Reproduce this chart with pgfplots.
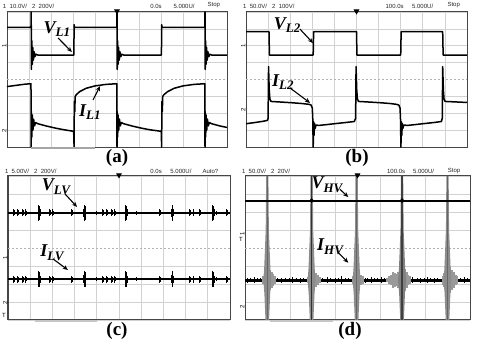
\documentclass[border=0pt]{standalone}
\usepackage{fontspec}
\setmainfont{Liberation Serif}
\newfontfamily\scopefont{Liberation Sans}
\usepackage{pgfplots}
\usepackage{pgfplotstable}
\pgfplotsset{compat=1.18}
\usetikzlibrary{arrows.meta}

\newcommand{\hdr}{\scopefont\fontsize{3}{3}\selectfont}
\newcommand{\lab}[2]{{\fontsize{9}{9}\selectfont\bfseries\itshape #1\raisebox{-0.45ex}{\fontsize{6.5}{6.5}\selectfont #2}}}

\tikzset{arr/.style={-{Stealth[length=2.6pt,width=2.2pt]}, line width=0.55pt}}
\pgfplotsset{
  scope/.style={
    scale only axis, xmin=0, xmax=10, ymin=-4, ymax=4,
    xtick={0,...,10}, ytick={-4,-3,-2,-1,1,2,3,4},
    extra y ticks={0}, extra y tick labels={},
    extra y tick style={grid=major, major grid style={gray!60, dash pattern=on 1pt off 1pt, line width=0.35pt}},
    xticklabels={}, yticklabels={},
    major tick length=0pt,
    grid=major, grid style={gray!35, line width=0.35pt},
    axis line style={gray!55!black, line width=0.5pt},
    clip=false,
  },
  trace/.style={black, line width=0.75pt, line join=round},
  trig/.style={only marks, mark=triangle*, mark size=1.3pt, mark options={rotate=180, fill=black}},
}

% noise bursts of panel (c): x, trace levels, half height
\pgfplotstableread{
x      v     i      e
0.255  1.96  -1.74  0.20
0.285  1.96  -1.74  0.14
0.435  1.96  -1.74  0.20
0.465  1.96  -1.74  0.14
0.645  1.96  -1.74  0.20
0.675  1.96  -1.74  0.14
0.795  1.96  -1.74  0.18
0.825  1.96  -1.74  0.12
1.35   1.96  -1.74  0.22
1.38   1.96  -1.74  0.45
1.41   1.96  -1.74  0.40
1.44   1.96  -1.74  0.20
1.875  1.96  -1.74  0.20
1.905  1.96  -1.74  0.14
1.995  1.96  -1.74  0.18
2.025  1.96  -1.74  0.12
2.855  1.96  -1.74  0.20
2.885  1.96  -1.74  0.14
3.42   1.96  -1.74  0.22
3.45   1.96  -1.74  0.45
3.48   1.96  -1.74  0.40
3.51   1.96  -1.74  0.20
3.99   1.96  -1.74  0.12
4.275  1.96  -1.74  0.20
4.305  1.96  -1.74  0.14
4.455  1.96  -1.74  0.20
4.485  1.96  -1.74  0.14
4.655  1.96  -1.74  0.20
4.685  1.96  -1.74  0.14
4.805  1.96  -1.74  0.18
4.835  1.96  -1.74  0.12
5.27   1.96  -1.74  0.22
5.30   1.96  -1.74  0.45
5.33   1.96  -1.74  0.40
5.36   1.96  -1.74  0.20
5.80   1.96  -1.74  0.12
6.835  1.96  -1.74  0.20
6.865  1.96  -1.74  0.14
7.36   1.96  -1.74  0.22
7.39   1.96  -1.74  0.45
7.42   1.96  -1.74  0.40
7.45   1.96  -1.74  0.20
8.185  1.96  -1.74  0.20
8.215  1.96  -1.74  0.14
8.335  1.96  -1.74  0.20
8.365  1.96  -1.74  0.14
8.635  1.96  -1.74  0.20
8.665  1.96  -1.74  0.14
9.20   1.96  -1.74  0.22
9.23   1.96  -1.74  0.45
9.26   1.96  -1.74  0.40
9.29   1.96  -1.74  0.20
9.40   1.96  -1.74  0.12
9.835  1.96  -1.74  0.20
9.865  1.96  -1.74  0.14
}\burstsC

% panel (d): fine noise on the current trace
\pgfplotstableread{
x     y      e
0.10  -1.78  0.14
0.25  -1.78  0.10
0.40  -1.78  0.16
0.55  -1.78  0.11
0.70  -1.78  0.13
1.45  -1.78  0.12
1.60  -1.78  0.14
1.80  -1.78  0.10
1.95  -1.78  0.13
2.10  -1.78  0.16
2.30  -1.78  0.11
2.45  -1.78  0.14
2.60  -1.78  0.12
3.45  -1.78  0.11
3.65  -1.78  0.15
3.80  -1.78  0.12
4.00  -1.78  0.14
4.15  -1.78  0.10
4.30  -1.78  0.22
4.45  -1.78  0.13
4.60  -1.78  0.12
5.35  -1.78  0.14
5.45  -1.78  0.11
5.60  -1.78  0.16
5.75  -1.78  0.13
5.90  -1.78  0.12
6.05  -1.78  0.15
6.20  -1.78  0.11
7.45  -1.78  0.16
7.65  -1.78  0.12
7.80  -1.78  0.14
7.95  -1.78  0.11
8.10  -1.78  0.15
8.25  -1.78  0.12
8.40  -1.78  0.14
8.55  -1.78  0.13
9.55  -1.78  0.12
9.75  -1.78  0.15
9.90  -1.78  0.11
}\noiseD

% panel (d): ringing around the spikes
\pgfplotstableread{
x     y      e
0.80  -1.78  0.20
0.88  -1.78  0.35
1.10  -1.78  0.55
1.18  -1.78  0.45
1.26  -1.78  0.35
1.34  -1.78  0.22
2.80  -1.78  0.18
2.86  -1.78  0.30
3.08  -1.78  0.50
3.16  -1.78  0.38
3.24  -1.78  0.28
3.32  -1.78  0.18
4.78  -1.78  0.20
4.86  -1.78  0.35
5.08  -1.78  0.45
5.16  -1.78  0.30
5.24  -1.78  0.20
6.30  -1.78  0.12
6.40  -1.78  0.20
6.50  -1.78  0.30
6.58  -1.78  0.45
6.66  -1.78  0.40
6.74  -1.78  0.32
6.82  -1.78  0.45
7.10  -1.78  0.60
7.18  -1.78  0.45
7.26  -1.78  0.30
7.34  -1.78  0.20
8.78  -1.78  0.25
8.84  -1.78  0.40
9.12  -1.78  0.70
9.20  -1.78  0.55
9.28  -1.78  0.45
9.36  -1.78  0.30
9.44  -1.78  0.20
}\ringD

\begin{document}
\begin{tikzpicture}
\path[use as bounding box] (0,0) rectangle (240pt,171pt);

% ---------------- (a)
\begin{axis}[scope, at={(3.5pt,165pt)}, anchor=north west, width=110pt, height=67.5pt]
\addplot[trace] coordinates {
  (0,3.09) (1.09,3.09) (1.10,4.0) (1.11,0.6) (1.13,2.3) (1.15,0.9) (1.17,1.9)
  (1.20,1.15) (1.23,1.65) (1.27,1.35) (1.32,1.5) (1.40,1.45) (3.04,1.45)
  (3.05,3.25) (3.07,3.09) (4.99,3.09) (5.00,4.0) (5.01,0.6) (5.03,2.3)
  (5.05,0.9) (5.07,1.9) (5.10,1.15) (5.13,1.65) (5.17,1.35) (5.22,1.5)
  (5.30,1.45) (7.02,1.45) (7.03,3.25) (7.05,3.09) (8.99,3.09) (9.00,4.0)
  (9.01,0.6) (9.03,2.3) (9.05,0.9) (9.07,1.9) (9.10,1.15) (9.13,1.65)
  (9.17,1.35) (9.22,1.5) (9.30,1.45) (10,1.45)
};
\addplot[trace] coordinates {
  (0,-0.42) (0.4,-0.35) (0.8,-0.28) (1.09,-0.25) (1.10,-4.0) (1.11,-1.9)
  (1.13,-3.4) (1.15,-2.1) (1.18,-3.0) (1.21,-2.35) (1.25,-2.75) (1.30,-2.55)
  (1.40,-2.62) (1.8,-2.76) (2.2,-2.88) (2.6,-2.98) (3.03,-3.07) (3.05,-4.0)
  (3.06,-1.3) (3.08,-1.9) (3.10,-1.0) (3.15,-0.9) (3.3,-0.72) (3.6,-0.52)
  (4.0,-0.38) (4.5,-0.29) (4.99,-0.25) (5.00,-4.0) (5.01,-1.9) (5.03,-3.4)
  (5.05,-2.1) (5.08,-3.0) (5.11,-2.35) (5.15,-2.75) (5.20,-2.55) (5.30,-2.62)
  (5.7,-2.76) (6.1,-2.88) (6.5,-2.98) (7.01,-3.07) (7.03,-4.0) (7.04,-1.3)
  (7.06,-1.9) (7.08,-1.0) (7.13,-0.9) (7.3,-0.72) (7.6,-0.52) (8.0,-0.38)
  (8.5,-0.29) (8.99,-0.25) (9.00,-4.0) (9.01,-1.9) (9.03,-3.4) (9.05,-2.1)
  (9.08,-3.0) (9.11,-2.35) (9.15,-2.75) (9.20,-2.55) (9.30,-2.62) (9.7,-2.76)
  (10,-2.84)
};
\addplot[gray!70, line width=0.9pt] coordinates {(1.1,-4.05) (4.0,-4.05)};
\addplot[trig] coordinates {(5,4.05)};
\node[font=\hdr, anchor=south west, inner sep=0pt, gray!30!black] at (axis cs:-0.2,4.2) {1\ \ 10.0V/\ \ \ 2\ \ 200V/};
\node[font=\hdr, anchor=south west, inner sep=0pt, gray!30!black] at (axis cs:6.5,4.2) {0.0s};
\node[font=\hdr, anchor=south west, inner sep=0pt, gray!30!black] at (axis cs:7.55,4.2) {5.000U/};
\node[font=\hdr, anchor=south west, inner sep=0pt, gray!30!black] at (axis cs:9.1,4.2) {Stop};
\node[font=\hdr, anchor=east, inner sep=0.3pt, rotate=90] at (axis cs:-0.12,2.16) {1};
\node[font=\hdr, anchor=east, inner sep=0.3pt, rotate=90] at (axis cs:-0.12,-2.87) {2};
\node[inner sep=0pt] at (axis cs:2.27,2.99) {\lab{V}{L1}};
\draw[arr] (axis cs:2.32,2.46) -- (axis cs:2.95,1.63);
\node[inner sep=0pt] at (axis cs:3.77,-1.93) {\lab{I}{L1}};
\draw[arr] (axis cs:3.91,-1.21) -- (axis cs:4.23,-0.39);
\end{axis}

% ---------------- (b)
\begin{axis}[scope, at={(123pt,165pt)}, anchor=north west, width=110.5pt, height=67.5pt]
\addplot[trace] coordinates {
  (0,2.83) (1.04,2.83) (1.06,1.45) (3.04,1.45) (3.06,2.83) (5.0,2.83)
  (5.02,1.45) (7.0,1.45) (7.02,2.83) (8.9,2.83) (8.92,1.45) (10,1.45)
};
\addplot[trace] coordinates {
  (0,-2.62) (0.4,-2.55) (0.8,-2.47) (0.97,-2.42) (1.0,-2.3) (1.02,0.76)
  (1.05,-0.6) (1.08,-1.15) (1.13,-1.3) (1.5,-1.33) (2.0,-1.37) (2.5,-1.42)
  (2.85,-1.47) (2.95,-1.52) (3.0,-1.7) (3.02,-2.3) (3.04,-4.0) (3.06,-2.5)
  (3.08,-3.3) (3.10,-2.6) (3.13,-2.9) (3.17,-2.7) (3.3,-2.72) (3.6,-2.68)
  (4.0,-2.62) (4.5,-2.55) (4.9,-2.49) (4.96,-2.3) (4.98,0.76) (5.01,-0.6)
  (5.04,-1.15) (5.09,-1.3) (5.5,-1.33) (6.0,-1.37) (6.5,-1.42) (6.8,-1.47)
  (6.92,-1.52) (6.97,-1.7) (6.99,-2.3) (7.01,-4.0) (7.03,-2.5) (7.05,-3.3)
  (7.07,-2.6) (7.10,-2.9) (7.14,-2.7) (7.3,-2.72) (7.6,-2.68) (8.0,-2.62)
  (8.5,-2.55) (8.84,-2.49) (8.88,-2.3) (8.9,0.76) (8.93,-0.6) (8.96,-1.15)
  (9.01,-1.3) (9.5,-1.33) (10,-1.36)
};
\addplot[trig] coordinates {(5,4.05)};
\node[font=\hdr, anchor=south west, inner sep=0pt, gray!30!black] at (axis cs:-0.15,4.2) {1\ \ 50.0V/\ \ \ 2\ \ 100V/};
\node[font=\hdr, anchor=south west, inner sep=0pt, gray!30!black] at (axis cs:6.3,4.2) {100.0s};
\node[font=\hdr, anchor=south west, inner sep=0pt, gray!30!black] at (axis cs:7.5,4.2) {5.000U/};
\node[font=\hdr, anchor=south west, inner sep=0pt, gray!30!black] at (axis cs:9.1,4.2) {Stop};
\node[font=\hdr, anchor=east, inner sep=0.3pt, rotate=90] at (axis cs:-0.12,2.16) {1};
\node[font=\hdr, anchor=east, inner sep=0.3pt, rotate=90] at (axis cs:-0.12,-1.61) {2};
\node[inner sep=0pt] at (axis cs:1.86,3.23) {\lab{V}{L2}};
\draw[arr] (axis cs:2.44,2.99) -- (axis cs:3.03,2.16);
\node[inner sep=0pt] at (axis cs:1.67,-0.15) {\lab{I}{L2}};
\draw[arr] (axis cs:1.99,-0.5) -- (axis cs:2.9,-1.39);
\end{axis}

% ---------------- (c)
\begin{axis}[scope, at={(4pt,83pt)}, anchor=north west, width=111pt, height=72pt]
\addplot[black, line width=0.9pt] coordinates {(0,1.96) (10,1.96)};
\addplot[black, line width=0.9pt] coordinates {(0,-1.74) (10,-1.74)};
\addplot[draw=none, mark=none, error bars/.cd, y dir=both, y explicit, error mark=none,
  error bar style={black, line width=0.45pt}] table[x=x, y=v, y error=e] {\burstsC};
\addplot[draw=none, mark=none, error bars/.cd, y dir=both, y explicit, error mark=none,
  error bar style={black, line width=0.45pt}] table[x=x, y=i, y error=e] {\burstsC};
\addplot[gray!45, line width=0.9pt] coordinates {(1.2,-4.05) (4.0,-4.05)};
\addplot[trig] coordinates {(5,4.05)};
\node[font=\hdr, anchor=south west, inner sep=0pt, gray!30!black] at (axis cs:-0.15,4.12) {1\ \ 5.00V/\ \ \ 2\ \ 200V/};
\node[font=\hdr, anchor=south west, inner sep=0pt, gray!30!black] at (axis cs:6.4,4.12) {0.0s};
\node[font=\hdr, anchor=south west, inner sep=0pt, gray!30!black] at (axis cs:7.3,4.12) {5.000U/};
\node[font=\hdr, anchor=south west, inner sep=0pt, gray!30!black] at (axis cs:8.75,4.12) {Auto?};
\node[font=\hdr, anchor=east, inner sep=0.3pt, rotate=90] at (axis cs:-0.12,-0.39) {1};
\node[font=\hdr, anchor=east, inner sep=0.3pt, rotate=90] at (axis cs:-0.12,-2.89) {2};
\node[font=\hdr, anchor=east, inner sep=0.3pt] at (axis cs:-0.05,-3.75) {T};
\node[inner sep=0pt] at (axis cs:2.16,3.39) {\lab{V}{LV}};
\draw[arr] (axis cs:2.57,3.0) -- (axis cs:3.11,2.28);
\node[inner sep=0pt] at (axis cs:1.98,-0.28) {\lab{I}{LV}};
\draw[arr] (axis cs:2.03,-0.61) -- (axis cs:2.7,-1.22);
\end{axis}

% ---------------- (d)
\begin{axis}[scope, at={(122.5pt,83pt)}, anchor=north west, width=112.5pt, height=72pt]
\addplot[black, line width=1.5pt] coordinates {(0,-1.78) (10,-1.78)};
\addplot[draw=none, mark=none, error bars/.cd, y dir=both, y explicit, error mark=none,
  error bar style={gray!80, line width=1pt}] table[x=x, y=y, y error=e] {\ringD};
\addplot[draw=none, mark=none, error bars/.cd, y dir=both, y explicit, error mark=none,
  error bar style={black, line width=0.35pt}] table[x=x, y=y, y error=e] {\noiseD};
\addplot[fill=black!45, draw=none] coordinates {(0.94,4) (1.04,4) (1.06,1.0) (1.13,-1.2) (1.17,-1.78) (1.12,-2.5) (1.07,-4) (0.91,-4) (0.86,-2.5) (0.81,-1.78) (0.85,-1.2) (0.92,1.0)};
\addplot[fill=black!45, draw=none] coordinates {(2.91,4) (3.01,4) (3.03,1.0) (3.10,-1.2) (3.14,-1.78) (3.09,-2.5) (3.04,-4) (2.88,-4) (2.83,-2.5) (2.78,-1.78) (2.82,-1.2) (2.89,1.0)};
\addplot[fill=black!45, draw=none] coordinates {(4.91,4) (5.01,4) (5.03,1.0) (5.10,-1.2) (5.14,-1.78) (5.09,-2.5) (5.04,-4) (4.88,-4) (4.83,-2.5) (4.78,-1.78) (4.82,-1.2) (4.89,1.0)};
\addplot[fill=black!50, draw=none] coordinates {(6.93,4) (7.03,4) (7.05,1.0) (7.12,-1.2) (7.16,-1.78) (7.11,-2.5) (7.06,-4) (6.90,-4) (6.85,-2.5) (6.80,-1.78) (6.84,-1.2) (6.91,1.0)};
\addplot[fill=black!45, draw=none] coordinates {(8.95,4) (9.05,4) (9.07,1.0) (9.14,-1.2) (9.18,-1.78) (9.13,-2.5) (9.08,-4) (8.92,-4) (8.87,-2.5) (8.82,-1.78) (8.86,-1.2) (8.93,1.0)};
\addplot[black!60, line width=0.4pt] coordinates {(0.99,4) (0.99,-4)};
\addplot[black!80, line width=0.6pt] coordinates {(2.96,4) (2.96,-4)};
\addplot[black!60, line width=0.4pt] coordinates {(4.96,4) (4.96,-4)};
\addplot[black!75, line width=1.3pt] coordinates {(6.98,4) (6.98,-4)};
\addplot[black!60, line width=0.4pt] coordinates {(9.0,4) (9.0,-4)};
\addplot[black, line width=1.1pt] coordinates {(0,2.63) (10,2.63)};
\addplot[only marks, mark=*, mark size=0.9pt, black] coordinates {(2.96,2.63) (6.98,2.63)};
\addplot[gray!45, line width=0.9pt] coordinates {(1.1,-4.05) (3.9,-4.05)};
\addplot[trig] coordinates {(5,4.05)};
\node[font=\hdr, anchor=south west, inner sep=0pt, gray!30!black] at (axis cs:-0.15,4.12) {1\ \ 50.0V/\ \ \ 2\ \ 20V/};
\node[font=\hdr, anchor=south west, inner sep=0pt, gray!30!black] at (axis cs:6.3,4.12) {100.0s};
\node[font=\hdr, anchor=south west, inner sep=0pt, gray!30!black] at (axis cs:7.45,4.12) {5.000U/};
\node[font=\hdr, anchor=south west, inner sep=0pt, gray!30!black] at (axis cs:9.0,4.12) {Stop};
\node[font=\hdr, anchor=east, inner sep=0.3pt, rotate=90] at (axis cs:-0.12,0.94) {1};
\node[font=\hdr, anchor=east, inner sep=0.3pt] at (axis cs:-0.05,0.45) {T};
\node[font=\hdr, anchor=east, inner sep=0.3pt, rotate=90] at (axis cs:-0.12,-3.1) {2};
\node[inner sep=0pt] at (axis cs:3.64,3.5) {\lab{V}{HV}};
\draw[arr] (axis cs:4.22,3.26) -- (axis cs:4.59,2.83);
\node[inner sep=0pt] at (axis cs:3.78,0.06) {\lab{I}{HV}};
\draw[arr] (axis cs:4.15,-0.26) -- (axis cs:4.59,-0.82);
\end{axis}

\node[font=\fontsize{9.5}{10}\selectfont\bfseries, inner sep=0pt] at (58.5pt,92pt) {(a)};
\node[font=\fontsize{9.5}{10}\selectfont\bfseries, inner sep=0pt] at (178.5pt,92pt) {(b)};
\node[font=\fontsize{9.5}{10}\selectfont\bfseries, inner sep=0pt] at (58.5pt,5.5pt) {(c)};
\node[font=\fontsize{9.5}{10}\selectfont\bfseries, inner sep=0pt] at (175pt,5.5pt) {(d)};
\end{tikzpicture}
\end{document}
